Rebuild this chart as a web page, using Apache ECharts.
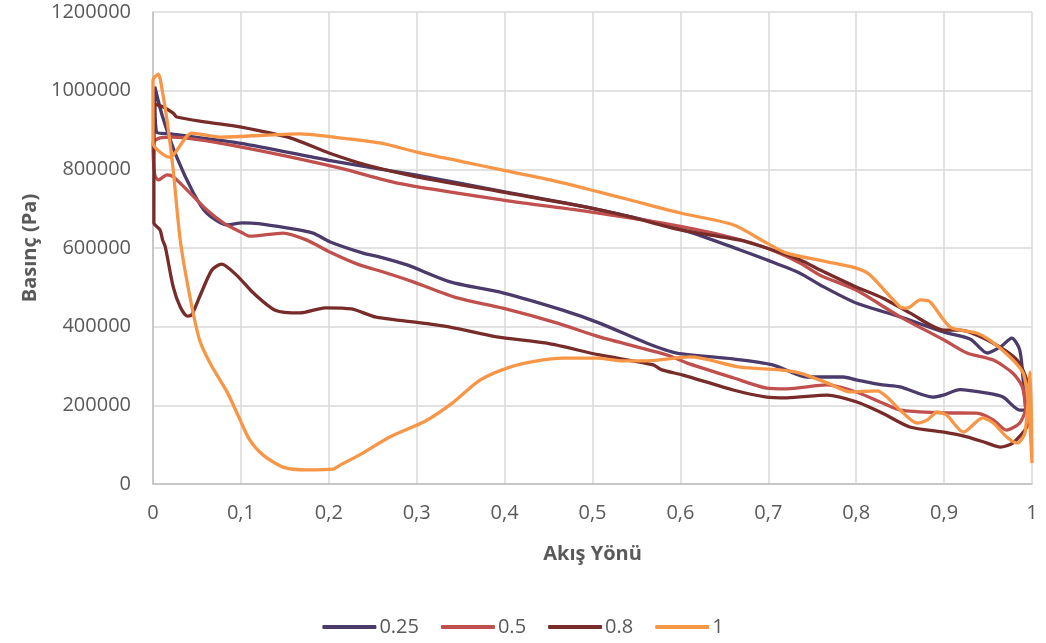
<!DOCTYPE html>
<html>
<head>
<meta charset="utf-8">
<script src="https://cdn.jsdelivr.net/npm/echarts@6/dist/echarts.min.js"></script>
<style>html,body{margin:0;padding:0;background:#fff}#c{width:1046px;height:643px}</style>
</head>
<body>
<div id="c"></div>
<script>
// Series names
const seriesNames = ['0.25', '0.5', '0.8', '1'];
const colors = ['#4a3b6b', '#c0504d', '#772c2a', '#f79646'];
// x tick labels use comma decimals
const xTicks = [0, 0.1, 0.2, 0.3, 0.4, 0.5, 0.6, 0.7, 0.8, 0.9, 1];
const yTicks = [0, 200000, 400000, 600000, 800000, 1000000, 1200000];

// Each series: pressure side (upper) and suction side (lower), leading edge -> trailing edge
const s025Upper = [[0.002,1010000],[0.004,895000],[0.02,890000],[0.1,866000],[0.2,823000],[0.3,785000],[0.4,743000],[0.5,701000],[0.6,648000],[0.668,595000],[0.698,570000],[0.736,536000],[0.759,506000],[0.8,460000],[0.85,425000],[0.9,386000],[0.93,368000],[0.949,333000],[0.965,350000],[0.977,371000],[0.986,341000],[0.99,264000],[0.993,188000]];
const s025Lower = [[0.002,1010000],[0.011,933000],[0.027,831000],[0.046,740000],[0.061,689000],[0.084,659000],[0.102,664000],[0.12,662000],[0.152,651000],[0.182,638000],[0.201,616000],[0.239,587000],[0.258,577000],[0.289,557000],[0.338,514000],[0.398,486000],[0.466,442000],[0.508,409000],[0.562,358000],[0.596,333000],[0.66,318000],[0.705,303000],[0.744,272000],[0.785,272000],[0.80,265000],[0.83,252000],[0.85,247000],[0.887,221000],[0.899,226000],[0.918,240000],[0.949,231000],[0.967,221000],[0.986,188000],[0.993,188000]];

const s05Upper = [[0.0,867000],[0.008,880000],[0.023,882000],[0.099,857000],[0.213,803000],[0.278,765000],[0.398,722000],[0.497,692000],[0.58,663000],[0.656,628000],[0.698,600000],[0.736,562000],[0.759,531000],[0.8,493000],[0.85,425000],[0.9,366000],[0.926,333000],[0.956,315000],[0.978,282000],[0.989,247000],[0.993,188000]];
const s05Lower = [[0.0,867000],[0.002,786000],[0.006,773000],[0.016,786000],[0.023,781000],[0.042,740000],[0.061,697000],[0.08,664000],[0.102,638000],[0.11,630000],[0.148,638000],[0.175,620000],[0.201,590000],[0.235,557000],[0.262,539000],[0.296,514000],[0.346,473000],[0.398,447000],[0.46,409000],[0.508,374000],[0.585,328000],[0.607,308000],[0.66,270000],[0.698,244000],[0.721,242000],[0.767,252000],[0.8,234000],[0.83,206000],[0.85,188000],[0.9,181000],[0.937,180000],[0.956,163000],[0.971,137000],[0.986,155000],[0.993,188000]];

const s08Upper = [[0.002,966000],[0.011,959000],[0.023,943000],[0.027,933000],[0.061,920000],[0.099,908000],[0.156,880000],[0.201,841000],[0.243,811000],[0.3,781000],[0.398,742000],[0.497,702000],[0.543,679000],[0.6,646000],[0.668,620000],[0.698,600000],[0.736,570000],[0.759,544000],[0.8,501000],[0.83,473000],[0.861,435000],[0.9,391000],[0.918,391000],[0.956,358000],[0.983,315000],[0.994,264000],[0.997,188000]];
const s08Lower = [[0.002,966000],[0.001,664000],[0.008,646000],[0.011,620000],[0.014,603000],[0.023,501000],[0.031,450000],[0.039,427000],[0.044,430000],[0.053,476000],[0.067,544000],[0.078,559000],[0.095,531000],[0.114,486000],[0.139,442000],[0.167,435000],[0.196,448000],[0.226,445000],[0.254,424000],[0.307,409000],[0.338,399000],[0.391,374000],[0.448,358000],[0.508,328000],[0.569,303000],[0.579,290000],[0.603,277000],[0.66,239000],[0.698,221000],[0.721,219000],[0.767,226000],[0.8,209000],[0.83,180000],[0.861,145000],[0.9,132000],[0.926,120000],[0.949,104000],[0.964,94000],[0.978,104000],[0.994,145000],[0.997,188000]];

const s1Upper = [[0.0,1027000],[0.0,867000],[0.019,831000],[0.044,892000],[0.076,882000],[0.167,890000],[0.201,883000],[0.258,867000],[0.3,844000],[0.353,819000],[0.398,798000],[0.452,773000],[0.508,742000],[0.543,722000],[0.6,689000],[0.66,659000],[0.698,613000],[0.721,587000],[0.767,565000],[0.8,549000],[0.816,531000],[0.85,450000],[0.858,447000],[0.873,468000],[0.884,463000],[0.907,399000],[0.937,384000],[0.952,366000],[0.975,323000],[0.99,282000],[0.996,200000],[1.0,53000]];
const s1Lower = [[0.0,1027000],[0.006,1042000],[0.011,994000],[0.017,908000],[0.023,798000],[0.031,620000],[0.042,476000],[0.053,366000],[0.065,307000],[0.085,231000],[0.099,163000],[0.11,112000],[0.125,74000],[0.148,43000],[0.175,36000],[0.205,38000],[0.213,48000],[0.235,74000],[0.27,120000],[0.31,160000],[0.34,205000],[0.372,264000],[0.406,297000],[0.437,313000],[0.466,320000],[0.505,320000],[0.535,313000],[0.562,313000],[0.611,323000],[0.668,297000],[0.713,290000],[0.736,282000],[0.767,257000],[0.793,234000],[0.824,237000],[0.835,221000],[0.85,188000],[0.869,155000],[0.881,163000],[0.892,183000],[0.903,175000],[0.922,132000],[0.944,168000],[0.956,155000],[0.971,120000],[0.983,104000],[0.992,130000],[0.998,285000],[1.0,53000]];

const uppers = [s025Upper, s05Upper, s08Upper, s1Upper];
const lowers = [s025Lower, s05Lower, s08Lower, s1Lower];

function loop(up, low) {
  return up.slice().reverse().concat(low.slice(1));
}

const FONT = 'Open Sans';
const series = seriesNames.map((n, i) => ({
  name: n,
  type: 'line',
  data: loop(uppers[i], lowers[i]),
  showSymbol: false,
  symbol: 'none',
  smooth: 0.25,
  lineStyle: { color: colors[i], width: 3.3 },
  itemStyle: { color: colors[i] },
  z: 2 + i
}));

const chart = echarts.init(document.getElementById('c'), null, { renderer: 'canvas' });
chart.setOption({
  animation: false,
  backgroundColor: '#ffffff',
  grid: { left: 153, right: 14, top: 12, bottom: 159, containLabel: false },
  xAxis: {
    type: 'value', min: 0, max: 1, interval: 0.1,
    name: 'Akış Yönü', nameLocation: 'middle', nameGap: 60,
    nameTextStyle: { fontFamily: FONT, fontSize: 20, fontWeight: 'bold', color: '#595959' },
    axisLine: { show: true, lineStyle: { color: '#bfbfbf', width: 1.5 } },
    axisTick: { show: false },
    axisLabel: { margin: 19, fontFamily: FONT, fontSize: 20, color: '#595959',
      formatter: v => { const r = Math.round(v * 10) / 10; return (r === 0 || r === 1) ? String(r) : r.toFixed(1).replace('.', ','); } },
    splitLine: { show: true, lineStyle: { color: '#d9d9d9', width: 1.5 } }
  },
  yAxis: {
    type: 'value', min: 0, max: 1200000, interval: 200000,
    name: 'Basınç (Pa)', nameLocation: 'middle', nameGap: 112, nameRotate: 90,
    nameTextStyle: { fontFamily: FONT, fontSize: 20, fontWeight: 'bold', color: '#595959' },
    axisLine: { show: true, lineStyle: { color: '#bfbfbf', width: 1.5 } },
    axisTick: { show: false },
    axisLabel: { margin: 22, fontFamily: FONT, fontSize: 20, color: '#595959',
      formatter: v => String(Math.round(v)) },
    splitLine: { show: true, lineStyle: { color: '#d9d9d9', width: 1.5 } }
  },
  legend: {
    data: seriesNames.map(n => ({ name: n, icon: 'roundRect' })),
    bottom: 1, left: 'center',
    itemWidth: 54, itemHeight: 4, itemGap: 22,
    textStyle: { fontFamily: FONT, fontSize: 20, color: '#595959', padding: [0, 0, 0, -2] }
  },
  series: series
});
</script>
</body>
</html>
